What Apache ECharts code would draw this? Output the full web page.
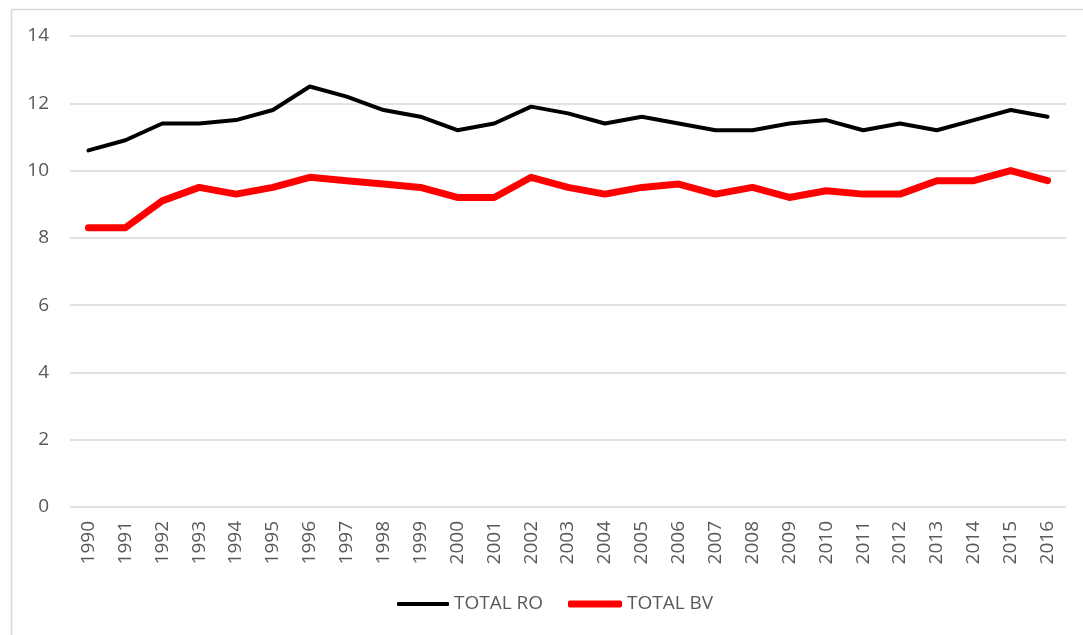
<!DOCTYPE html>
<html>
<head>
<meta charset="utf-8">
<script src="https://cdn.jsdelivr.net/npm/echarts@6/dist/echarts.min.js"></script>
<style>
  html, body { margin: 0; padding: 0; background: #fff; }
  #chart { width: 1083px; height: 635px; }
</style>
</head>
<body>
<div id="chart"></div>
<script>
// years on the x axis
var years = ['1990','1991','1992','1993','1994','1995','1996','1997','1998','1999',
  '2000','2001','2002','2003','2004','2005','2006','2007','2008','2009',
  '2010','2011','2012','2013','2014','2015','2016'];
// series values
var totalRO = [10.6,10.9,11.4,11.4,11.5,11.8,12.5,12.2,11.8,11.6,
  11.2,11.4,11.9,11.7,11.4,11.6,11.4,11.2,11.2,11.4,
  11.5,11.2,11.4,11.2,11.5,11.8,11.6];
var totalBV = [8.3,8.3,9.1,9.5,9.3,9.5,9.8,9.7,9.6,9.5,
  9.2,9.2,9.8,9.5,9.3,9.5,9.6,9.3,9.5,9.2,
  9.4,9.3,9.3,9.7,9.7,10.0,9.7];

var font = '"Open Sans", "Liberation Sans", sans-serif';
var txt = { color: '#595959', fontSize: 19, fontFamily: font, lineHeight: 20 };
var myChart = echarts.init(document.getElementById('chart'));
myChart.setOption({
  animation: false,
  backgroundColor: '#fff',
  graphic: [{
    type: 'rect',
    shape: { x: 11.5, y: 9.5, width: 1100, height: 700 },
    style: { fill: 'none', stroke: '#d9d9d9', lineWidth: 1.5 },
    z: -1
  }],
  grid: { left: 70, right: 17, top: 36, bottom: 128 },
  // two legends so each icon keeps its own line thickness
  legend: [
    {
      left: 392, top: 589,
      itemWidth: 52, itemHeight: 4, itemGap: 4,
      icon: 'roundRect',
      textStyle: txt,
      data: ['TOTAL RO']
    },
    {
      left: 563, top: 589,
      itemWidth: 54, itemHeight: 7,
      icon: 'roundRect',
      textStyle: txt,
      data: ['TOTAL BV']
    }
  ],
  xAxis: {
    type: 'category',
    data: years,
    boundaryGap: true,
    axisLine: { show: false },
    axisTick: { show: false },
    axisLabel: { rotate: 90, color: '#595959', fontSize: 19, fontFamily: font, margin: 14, interval: 0 }
  },
  yAxis: {
    type: 'value',
    min: 0,
    max: 14,
    interval: 2,
    axisLine: { show: false },
    axisTick: { show: false },
    axisLabel: { color: '#595959', fontSize: 19, fontFamily: font, margin: 21 },
    splitLine: { lineStyle: { color: '#d9d9d9', width: 1.5 } }
  },
  series: [
    {
      name: 'TOTAL RO',
      type: 'line',
      data: totalRO,
      symbol: 'none',
      itemStyle: { color: '#000000' },
      lineStyle: { color: '#000000', width: 4, cap: 'round', join: 'round' }
    },
    {
      name: 'TOTAL BV',
      type: 'line',
      data: totalBV,
      symbol: 'none',
      itemStyle: { color: '#ff0000' },
      lineStyle: { color: '#ff0000', width: 7, cap: 'round', join: 'round' }
    }
  ]
});
</script>
</body>
</html>
